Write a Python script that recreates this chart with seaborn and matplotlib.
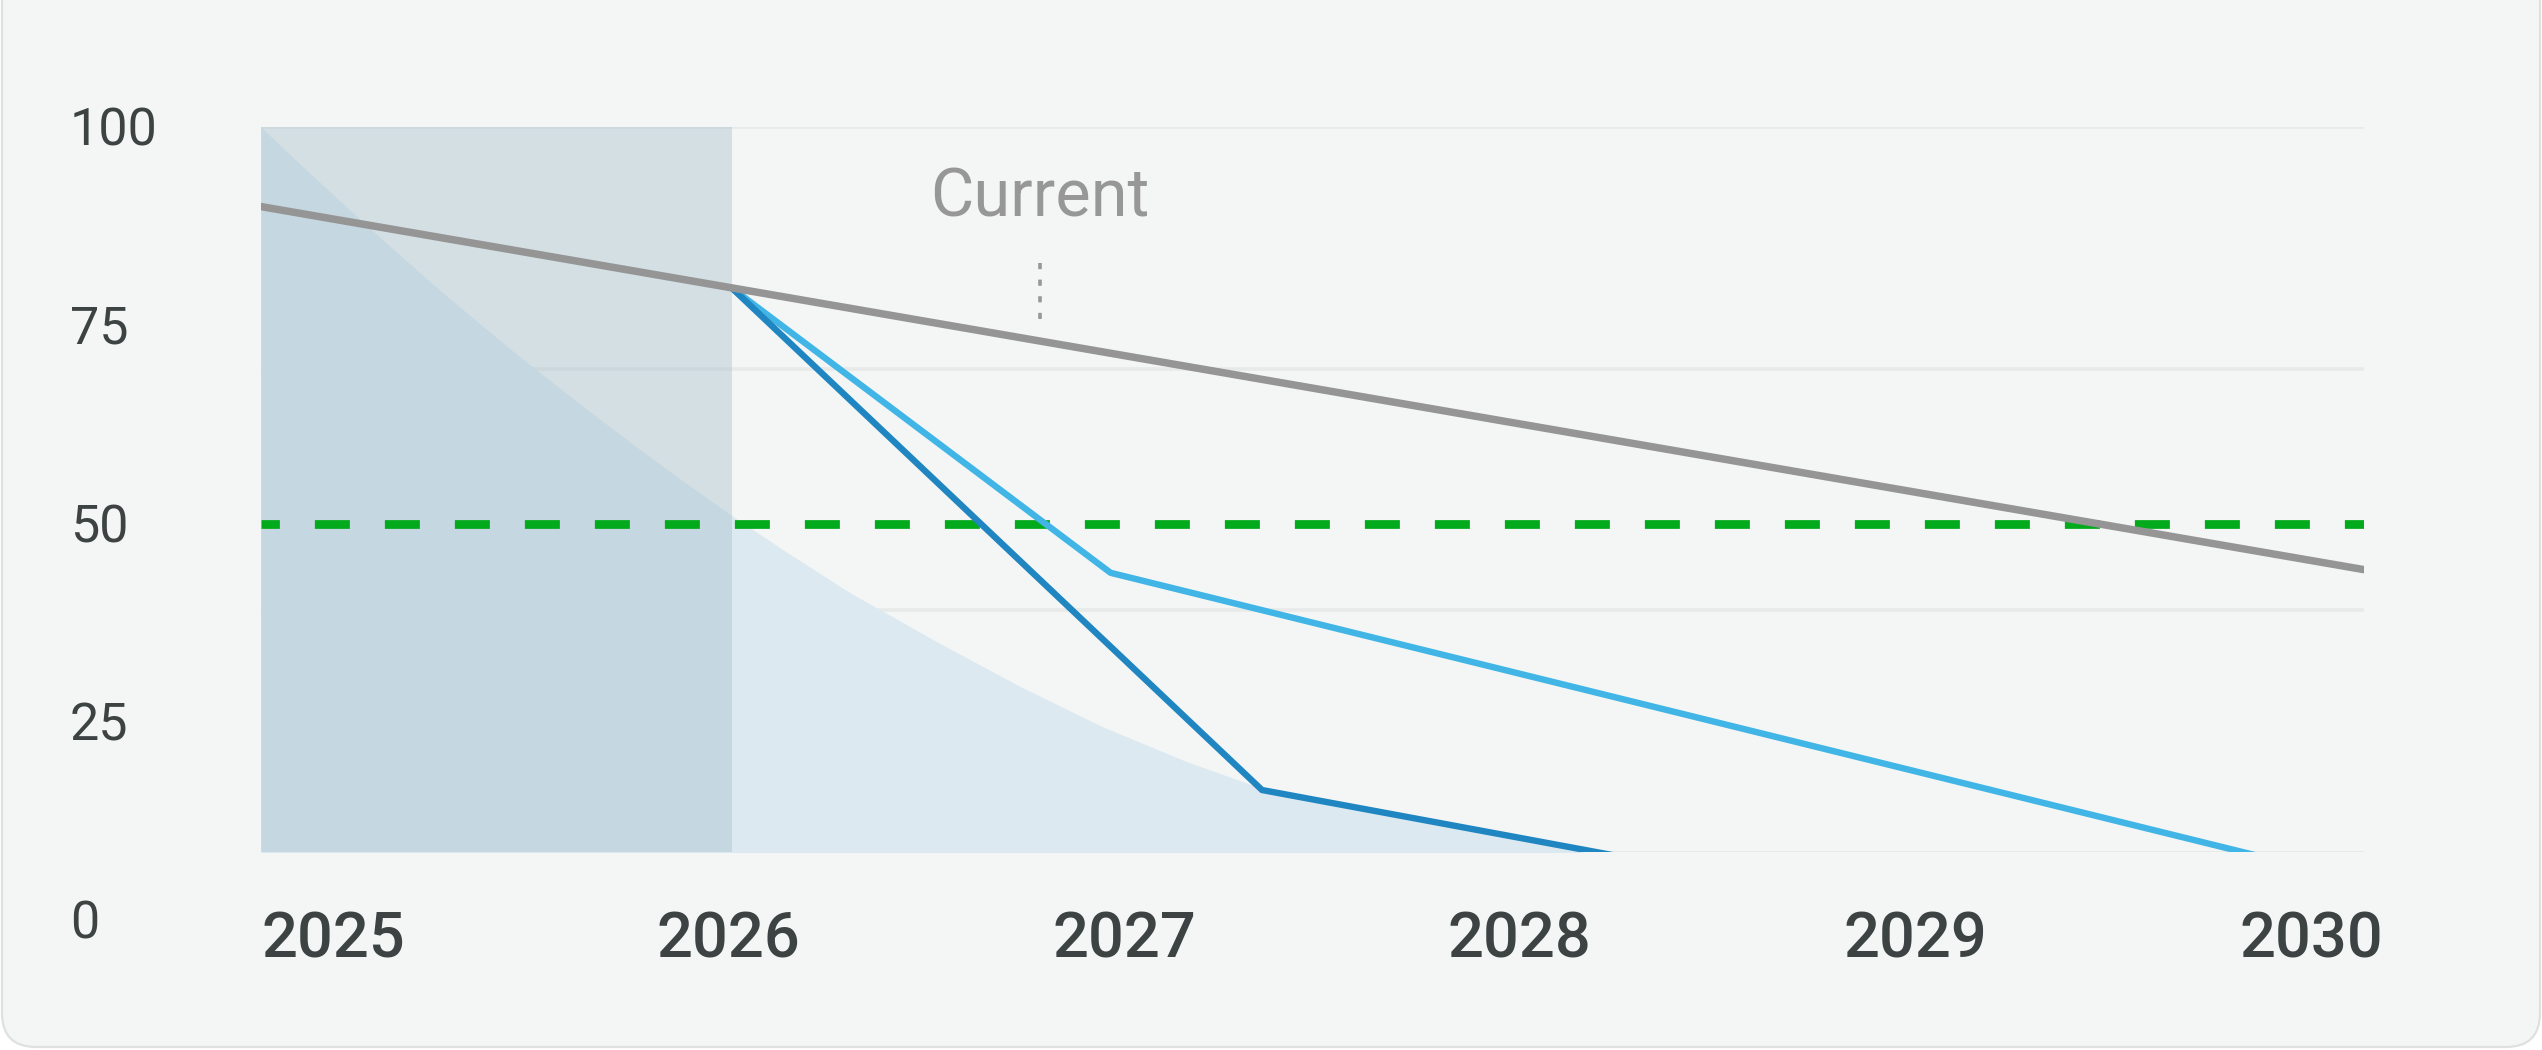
import numpy as np
import pandas as pd
import matplotlib
matplotlib.use("Agg")
import matplotlib.pyplot as plt
import matplotlib.transforms as mtransforms
from matplotlib.patches import FancyBboxPatch
import seaborn as sns

# ---------------- data ----------------
year_labels = ["2025", "2026", "2027", "2028", "2029", "2030"]
y_tick_values = [100, 75, 50, 25, 0]

baseline_x = [2025.0, 2030.0]
baseline_y = [90.0, 44.2]

fast_x = [2026.12, 2027.38, 2030.0]
fast_y = [79.7, 16.4, -9.4]

slow_x = [2026.12, 2027.02, 2030.0]
slow_y = [79.7, 43.8, 4.8]

area_x = [2025.0, 2025.1, 2025.2, 2025.3, 2025.4, 2025.5, 2025.6, 2025.7, 2025.8,
          2025.9, 2026.0, 2026.12, 2026.25, 2026.4, 2026.6, 2026.8, 2027.0, 2027.2,
          2027.38, 2027.6, 2028.0, 2028.3]
area_y = [100.0, 95.0, 90.1, 85.3, 80.6, 76.1, 71.7, 67.5, 63.4,
          59.4, 55.5, 51.0, 46.4, 41.3, 35.3, 29.6, 24.4, 20.0,
          16.6, 14.0, 10.0, 7.0]

history_start, history_end = 2025.0, 2026.12
target_value = 50.0
current_x = 2026.852
current_label = "Current"
current_marker_y = [82.9, 74.5]
current_text_y = 88.8

x_min, x_max = 2025.0, 2030.0
y_min, y_max = 8.62, 100.0

# ---------------- style ----------------
sns.set_theme(style="white")
plt.rcParams["font.family"] = ["Roboto", "DejaVu Sans"]

W, H, DPI = 2542, 1050, 100
fig = plt.figure(figsize=(W / DPI, H / DPI), dpi=DPI, facecolor="white")

# card background
card = FancyBboxPatch((2, 3), W - 4, H + 60, boxstyle="round,pad=0,rounding_size=34",
                      transform=mtransforms.IdentityTransform(),
                      facecolor="#f4f6f5", edgecolor="#dfe1e1", linewidth=1.6, zorder=-10)
fig.patches.append(card)

ax_l, ax_r, ax_t, ax_b = 261, 2364, 127.3, 851.7
ax = fig.add_axes([ax_l / W, 1 - ax_b / H, (ax_r - ax_l) / W, (ax_b - ax_t) / H])
ax.set_zorder(5)
ax.set_facecolor("none")
ax.set_xlim(x_min, x_max)
ax.set_ylim(y_min, y_max)
for s in ax.spines.values():
    s.set_visible(False)

# gridlines (evenly spaced in the visible area)
grid_vals = np.linspace(y_max, y_min, 4)
for i, g in enumerate(grid_vals):
    ax.axhline(g, color="#e8eaea", linewidth=2.6 if i < 3 else 1.4, zorder=1)

# projected area
ax.fill_between(area_x, area_y, y_min - 20, color="#dce9f1", linewidth=0, zorder=2)

# history shading
ax.axvspan(history_start, history_end, color="#abc3cd", alpha=0.45, linewidth=0, zorder=3)

# target line
ax.axhline(target_value, color="#03aa1b", linewidth=6.3, linestyle=(1.9, (4.0, 4.0)), zorder=4)

# lines
common = dict(solid_joinstyle="round", solid_capstyle="round", sort=False, legend=False)
sns.lineplot(x=baseline_x, y=baseline_y, ax=ax, color="#959595", linewidth=5.4, zorder=6, **common)
sns.lineplot(x=slow_x, y=slow_y, ax=ax, color="#41b5e5", linewidth=4.6, zorder=5, **common)
sns.lineplot(x=fast_x, y=fast_y, ax=ax, color="#2086c2", linewidth=4.6, zorder=5, **common)

# current marker
ax.plot([current_x, current_x], current_marker_y, color="#979797", linewidth=2.6,
        linestyle=(0, (1.7, 2.9)), zorder=6)
ax.text(current_x, current_text_y, current_label, ha="center", va="baseline",
        fontsize=48, color="#979797", zorder=7)

# y labels (text, 0 sits below the visible area)
ytrans = mtransforms.offset_copy(ax.get_yaxis_transform(), fig=fig, x=0, y=-18.5, units="dots")
for v in y_tick_values:
    ax.text((70 - ax_l) / (ax_r - ax_l), v, str(v), transform=ytrans, ha="left",
            va="baseline", fontsize=37.5, color="#3d4343", clip_on=False)

# x labels
label_pos = np.linspace(x_min + (333 - ax_l) / 420.6, x_min + (2311 - ax_l) / 420.6, len(year_labels))
ax.set_xticks(label_pos)
ax.set_xticklabels(year_labels, fontsize=45.5, color="#3d4343", fontweight="medium")
ax.tick_params(axis="x", length=0, pad=(958 - ax_b) * 72 / DPI)
for t in ax.get_xticklabels():
    t.set_va("baseline")
ax.set_yticks([])
ax.set_xlabel("")
ax.set_ylabel("")

fig.savefig("out.png", dpi=DPI, facecolor="white")
